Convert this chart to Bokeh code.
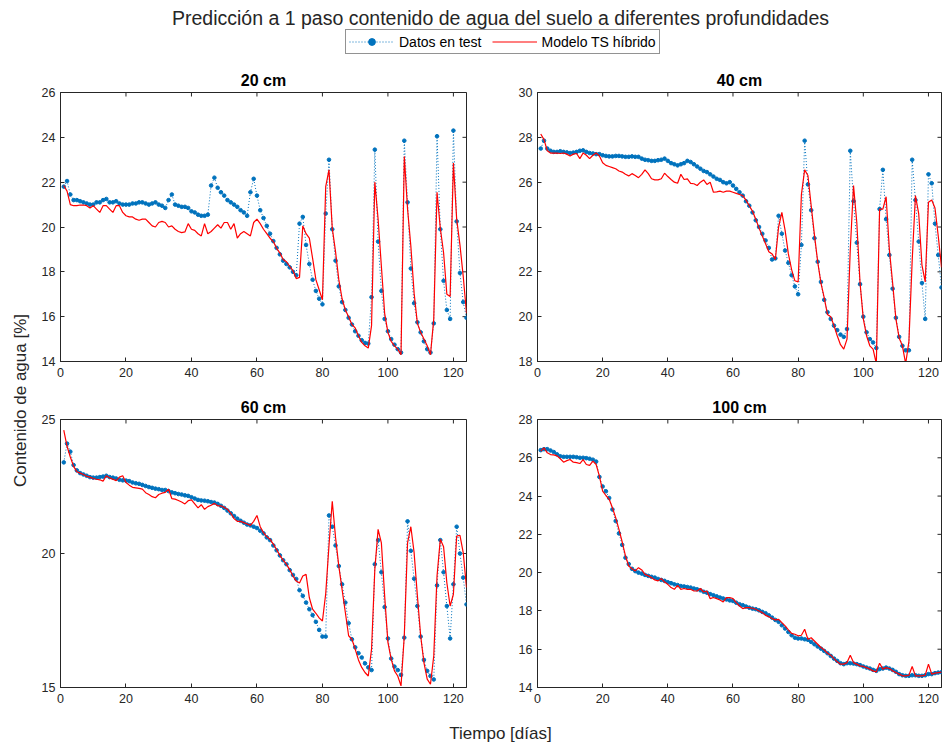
from math import pi
from bokeh.plotting import figure
from bokeh.models import (Range1d, LinearAxis, Label, Legend, LegendItem,
                          ColumnDataSource, FixedTicker)
from bokeh.layouts import column, row
from bokeh.embed import file_html
from bokeh.resources import INLINE

# ---------------- data ----------------
days = list(range(1, 125))
x_ticks = [0, 20, 40, 60, 80, 100, 120]
x_lo, x_hi = 0, 124

title_main = "Predicción a 1 paso contenido de agua del suelo a diferentes profundidades"
label_blue = "Datos en test"
label_red = "Modelo TS híbrido"
y_label = "Contenido de agua [%]"
x_label = "Tiempo [días]"
panel_titles = ["20 cm", "40 cm", "60 cm", "100 cm"]

ticks_20 = [14, 16, 18, 20, 22, 24, 26]
ticks_40 = [18, 20, 22, 24, 26, 28, 30]
ticks_60 = [15, 20, 25]
ticks_100 = [14, 16, 18, 20, 22, 24, 26, 28]

obs_20 = [21.8, 22.05, 21.45, 21.2, 21.2, 21.15, 21.1, 21.05, 21.0, 21.0,
          21.1, 21.1, 21.2, 21.25, 21.1, 21.1, 21.15, 21.05, 21.0, 21.0,
          21.0, 21.05, 21.05, 21.1, 21.1, 21.05, 21.0, 21.05, 21.1, 21.0,
          20.95, 20.85, 21.2, 21.45, 21.0, 20.95, 20.9, 20.9, 20.85, 20.7,
          20.65, 20.55, 20.5, 20.5, 20.55, 21.85, 22.2, 21.75, 21.55, 21.4,
          21.2, 21.1, 21.0, 20.9, 20.75, 20.65, 20.5, 21.55, 22.15, 21.4,
          20.75, 20.4, 20.05, 19.7, 19.37, 19.07, 18.78, 18.5, 18.35, 18.2,
          18.0, 17.85, 20.15, 20.45, 19.2, 18.35, 17.65, 17.15, 16.8, 16.55,
          20.6, 23.0, 19.9, 18.5, 17.35, 16.65, 16.3, 15.95, 15.65, 15.35,
          15.15, 14.95, 14.83, 14.8, 16.87, 23.45, 19.35, 17.15, 15.9, 15.35,
          15.0, 14.75, 14.55, 14.4, 23.85, 21.1, 18.15, 16.6, 15.75, 15.3,
          14.9, 14.55, 14.4, 15.7, 24.05, 19.9, 17.6, 16.3, 15.9, 24.3,
          20.25, 17.95, 16.65, 15.95]
mod_20 = [21.85, 21.6, 21.0, 20.95, 20.95, 20.98, 20.98, 20.95, 20.85, 20.95,
          20.8, 20.65, 20.95, 20.95, 20.8, 20.65, 20.95, 20.95, 20.65, 20.5,
          20.45, 20.45, 20.35, 20.3, 20.35, 20.35, 20.2, 20.05, 20.0, 20.2,
          20.25, 20.2, 20.0, 20.05, 19.9, 19.8, 19.75, 19.78, 20.15, 19.9,
          19.85, 19.7, 19.6, 20.15, 19.7, 19.8, 19.95, 20.1, 19.95, 20.2,
          20.2, 19.9, 20.15, 19.5, 19.7, 19.8, 19.7, 19.6, 20.2, 20.35,
          20.15, 19.9, 19.7, 19.5, 19.35, 19.05, 18.85, 18.55, 18.45, 18.25,
          18.05, 17.7, 17.75, 20.05, 19.7, 19.5, 18.6, 17.65, 17.2, 16.75,
          21.8, 22.55, 19.95, 18.9, 17.65, 16.8, 16.3, 16.0, 15.65, 15.5,
          15.15, 14.85, 14.7, 14.6, 15.6, 22.0, 20.35, 18.25, 16.15, 15.3,
          14.9, 14.7, 14.55, 14.3, 23.15, 20.8, 19.15, 17.05, 15.7, 15.3,
          15.0, 14.7, 14.3, 15.9, 21.55, 19.95, 18.85, 17.0, 16.9, 22.85,
          20.35, 19.2, 17.8, 16.15]

obs_40 = [27.5, 27.85, 27.5, 27.4, 27.35, 27.35, 27.38, 27.35, 27.33, 27.3,
          27.32, 27.35, 27.4, 27.42, 27.35, 27.3, 27.28, 27.25, 27.25, 27.2,
          27.17, 27.15, 27.15, 27.17, 27.17, 27.15, 27.13, 27.13, 27.15, 27.13,
          27.13, 27.05, 27.0, 26.98, 26.95, 26.95, 26.98, 27.0, 27.05, 26.95,
          26.85, 26.8, 26.75, 26.8, 26.85, 26.95, 26.9, 26.8, 26.7, 26.6,
          26.5, 26.45, 26.35, 26.25, 26.15, 26.1, 26.0, 25.95, 26.0, 25.85,
          25.7, 25.55, 25.4, 25.15, 24.95, 24.65, 24.3, 24.0, 23.7, 23.4,
          23.07, 22.55, 22.6, 24.5, 23.7, 22.95, 22.4, 21.85, 21.35, 21.0,
          23.2, 27.85, 25.9, 24.75, 23.5, 22.45, 21.55, 20.75, 20.2, 19.9,
          19.6, 19.4, 19.2, 19.1, 19.45, 27.4, 25.15, 23.3, 21.45, 20.0,
          19.3, 19.0, 18.85, 18.6, 24.8, 26.55, 24.35, 22.75, 21.25, 19.95,
          19.1, 18.7, 18.5, 18.5, 27.0, 25.2, 23.35, 21.5, 19.9, 26.35,
          25.95, 24.15, 22.75, 21.3]
mod_40 = [28.15, 27.9, 27.4, 27.3, 27.3, 27.3, 27.28, 27.3, 27.25, 27.17,
          27.25, 27.28, 27.05, 27.3, 27.2, 27.05, 27.2, 27.3, 27.17, 26.87,
          26.75, 26.7, 26.65, 26.6, 26.5, 26.45, 26.35, 26.28, 26.38, 26.3,
          26.2, 26.35, 26.55, 26.38, 26.15, 26.1, 26.1, 26.15, 26.4, 26.25,
          26.12, 26.0, 25.95, 26.35, 26.12, 26.15, 25.95, 25.93, 25.85, 26.0,
          26.1, 25.9, 26.0, 25.55, 25.57, 25.6, 25.55, 25.6, 25.6, 25.55,
          25.5, 25.45, 25.4, 25.2, 24.95, 24.7, 24.35, 23.95, 23.6, 23.25,
          22.9, 22.8, 22.55, 24.0, 24.65, 23.85, 22.8, 22.1, 21.6, 21.55,
          25.45, 26.55, 26.3, 24.95, 23.65, 22.45, 21.5, 20.85, 20.1, 20.0,
          19.6, 19.15, 18.75, 18.55, 19.0, 23.0, 25.85, 24.2, 21.5, 19.9,
          19.15, 18.7, 18.55, 17.9, 24.8, 24.8, 25.35, 23.0, 21.5, 19.9,
          19.05, 18.7, 17.9, 18.9, 22.5, 25.4, 24.6, 22.3, 21.55, 25.1,
          25.2, 24.85, 23.6, 22.2]

obs_60 = [23.4, 24.1, 23.8, 23.3, 23.1, 23.0, 22.95, 22.9, 22.85, 22.83,
          22.83, 22.85, 22.87, 22.9, 22.85, 22.83, 22.8, 22.75, 22.73, 22.72,
          22.7, 22.65, 22.62, 22.6, 22.56, 22.52, 22.48, 22.45, 22.42, 22.4,
          22.37, 22.37, 22.33, 22.28, 22.25, 22.22, 22.2, 22.17, 22.15, 22.1,
          22.05, 22.0, 21.98, 21.97, 21.95, 21.92, 21.9, 21.85, 21.78, 21.7,
          21.6, 21.5, 21.4, 21.3, 21.22, 21.15, 21.08, 21.05, 21.0, 20.95,
          20.85, 20.75, 20.6, 20.5, 20.3, 20.12, 19.93, 19.75, 19.6, 19.38,
          19.2, 19.05, 18.63, 18.42, 18.17, 17.92, 17.7, 17.45, 17.15, 16.9,
          16.9, 21.42, 21.0, 20.3, 19.53, 18.85, 18.17, 17.4, 16.8, 16.5,
          16.28, 16.12, 15.9, 15.75, 15.65, 19.6, 20.5, 19.3, 18.0, 16.83,
          16.08, 15.78, 15.65, 15.47, 16.86, 21.2, 20.1, 19.06, 18.04, 16.9,
          16.03, 15.62, 15.43, 15.3, 18.81, 20.5, 19.3, 18.04, 16.83, 18.85,
          21.0, 20.0, 19.1, 18.1]
mod_60 = [24.6, 24.0, 23.6, 23.25, 23.05, 23.0, 22.95, 22.88, 22.85, 22.8,
          22.77, 22.75, 22.7, 22.9, 22.82, 22.77, 22.72, 22.85, 22.9, 22.65,
          22.55, 22.47, 22.45, 22.43, 22.4, 22.27, 22.2, 22.12, 22.08, 22.2,
          22.25, 22.28, 22.4, 22.05, 22.03, 21.98, 21.92, 21.85, 21.97, 22.0,
          21.85, 21.7, 21.82, 21.65, 21.75, 21.8, 21.87, 21.78, 21.78, 21.72,
          21.65, 21.5, 21.3, 21.2, 21.2, 21.15, 21.1, 21.05, 21.2, 21.42,
          21.0, 20.78, 20.63, 20.53, 20.35, 20.15, 19.93, 19.75, 19.6, 19.4,
          19.16, 18.97, 18.9, 19.16, 19.22, 18.35, 17.92, 17.77, 17.6, 17.48,
          18.5, 20.3, 21.95, 20.6, 19.53, 18.66, 17.8, 16.93, 16.8, 16.43,
          16.03, 15.75, 15.56, 15.43, 16.43, 19.4, 20.9, 20.4, 18.42, 16.68,
          16.06, 15.62, 15.43, 15.06, 16.93, 20.4, 21.0, 20.03, 18.42, 16.93,
          15.93, 15.31, 15.12, 16.18, 19.16, 20.53, 20.25, 18.91, 18.04, 18.48,
          20.65, 20.68, 20.03, 18.73]

obs_100 = [26.4, 26.45, 26.45, 26.38, 26.3, 26.18, 26.08, 26.05, 26.05, 26.05,
           26.05, 26.03, 26.0, 26.0, 25.98, 25.95, 25.9, 25.8, 25.0, 24.5,
           24.25, 23.9, 23.3, 22.7, 22.05, 21.45, 20.78, 20.45, 20.2, 20.08,
           20.0, 19.95, 19.88, 19.83, 19.78, 19.74, 19.67, 19.62, 19.57, 19.5,
           19.45, 19.39, 19.35, 19.3, 19.28, 19.25, 19.22, 19.17, 19.13, 19.08,
           19.0, 18.95, 18.88, 18.82, 18.76, 18.7, 18.65, 18.6, 18.55, 18.52,
           18.43, 18.35, 18.3, 18.23, 18.17, 18.12, 18.09, 18.03, 17.95, 17.88,
           17.77, 17.65, 17.53, 17.43, 17.25, 17.08, 16.9, 16.73, 16.6, 16.56,
           16.56, 16.52, 16.49, 16.38, 16.26, 16.14, 16.03, 15.91, 15.79, 15.65,
           15.51, 15.39, 15.27, 15.22, 15.27, 15.27, 15.25, 15.22, 15.17, 15.1,
           15.04, 14.99, 14.92, 14.87, 14.96, 14.99, 15.04, 14.99, 14.92, 14.82,
           14.7, 14.64, 14.61, 14.61, 14.64, 14.64, 14.61, 14.61, 14.64, 14.7,
           14.7, 14.75, 14.78, 14.8]
mod_100 = [26.35, 26.52, 26.26, 26.17, 26.15, 26.1, 25.95, 25.77, 25.85, 25.91,
           25.77, 25.75, 25.7, 25.9, 25.65, 25.6, 25.83, 25.65, 25.04, 24.26,
           24.03, 23.83, 23.39, 22.87, 22.26, 21.6, 20.87, 20.35, 20.2, 20.09,
           20.26, 20.14, 19.91, 19.83, 19.74, 19.62, 19.57, 19.69, 19.51, 19.39,
           19.22, 19.13, 19.34, 19.13, 19.17, 19.13, 19.13, 19.04, 19.04, 19.17,
           18.99, 19.04, 18.64, 18.7, 18.64, 18.57, 18.47, 18.7, 18.7, 18.64,
           18.43, 18.26, 18.12, 18.17, 18.17, 18.14, 18.09, 18.0, 17.91, 17.77,
           17.7, 17.6, 17.53, 17.56, 17.39, 17.22, 17.01, 16.83, 16.78, 16.7,
           16.73, 17.04, 16.52, 16.6, 16.43, 16.26, 16.09, 15.97, 15.79, 15.69,
           15.51, 15.34, 15.22, 15.22, 15.3, 15.69, 15.3, 15.22, 15.13, 15.1,
           15.04, 14.96, 14.87, 14.82, 15.27, 14.96, 15.04, 14.99, 14.87, 14.78,
           14.7, 14.61, 14.61, 14.64, 15.1, 14.61, 14.61, 14.61, 14.64, 15.22,
           14.7, 14.75, 14.78, 14.8]

# ---------------- style ----------------
FONT = "Liberation Sans"
AX = "#262626"
BLUE = "#0072BD"
RED = "#FF0000"
TICK_FS = "12.5px"
NAN = float("nan")


def style_axis(ax, ticks):
    ax.ticker = FixedTicker(ticks=ticks)
    ax.minor_tick_line_color = None
    ax.major_tick_in = 4
    ax.major_tick_out = 0
    ax.major_tick_line_color = AX
    ax.axis_line_color = AX
    ax.major_label_text_font = FONT
    ax.major_label_text_font_size = TICK_FS
    ax.major_label_text_color = AX


def make_panel(title, obs, mod, ylo, yhi, yticks, fw, fh, bl, br, bt, bb):
    p = figure(frame_width=fw, frame_height=fh,
               x_range=Range1d(x_lo, x_hi), y_range=Range1d(ylo, yhi),
               min_border_left=bl, min_border_right=br,
               min_border_top=bt, min_border_bottom=bb,
               output_backend="svg", toolbar_location=None)
    p.grid.visible = False
    p.outline_line_color = AX
    p.background_fill_color = "white"
    p.border_fill_color = "white"
    style_axis(p.xaxis[0], x_ticks)
    style_axis(p.yaxis[0], yticks)
    p.xaxis[0].major_label_standoff = 6
    p.yaxis[0].major_label_standoff = 5
    # top axis only carries the panel title (no ticks, no tick labels)
    ax_t = LinearAxis(ticker=FixedTicker(ticks=[]))
    ax_t.axis_line_color = None
    ax_t.axis_label = title
    ax_t.axis_label_text_font = FONT
    ax_t.axis_label_text_font_size = "16px"
    ax_t.axis_label_text_font_style = "bold"
    ax_t.axis_label_text_color = "black"
    ax_t.axis_label_standoff = 4
    p.add_layout(ax_t, "above")
    # mirrored inward ticks on the right and top edges of the box
    p.scatter(x=[x_hi] * len(yticks), y=yticks, marker="dash", size=8,
              line_color=AX, line_width=1)
    p.scatter(x=x_ticks, y=[yhi] * len(x_ticks), marker="dash", angle=pi / 2,
              size=8, line_color=AX, line_width=1)

    src = ColumnDataSource(dict(x=days, obs=obs, mod=mod))
    p.line("x", "obs", source=src, line_color=BLUE, line_dash="1 2", line_width=1)
    p.scatter("x", "obs", source=src, size=3.6, color=BLUE)
    p.line("x", "mod", source=src, line_color=RED, line_width=1.2)
    return p


W = 942
HDR = 68
# header with title and legend
header = figure(width=W, height=HDR, x_range=Range1d(0, W), y_range=Range1d(0, HDR),
                x_axis_location=None, y_axis_location=None, min_border=0,
                output_backend="svg", toolbar_location=None)
header.grid.visible = False
header.outline_line_color = None
header.add_layout(Label(x=500, y=HDR - 17, text=title_main, text_align="center",
                        text_baseline="middle", text_font=FONT,
                        text_font_size="19.5px", text_color=AX))
leg_src = ColumnDataSource(dict(x=[NAN], y=[NAN]))
lb = header.line("x", "y", source=leg_src, line_color=BLUE, line_dash="1 2", line_width=1)
sb = header.scatter("x", "y", source=leg_src, size=3.6, color=BLUE)
lr = header.line("x", "y", source=leg_src, line_color=RED, line_width=1.2)
leg = Legend(items=[LegendItem(label=label_blue, renderers=[lb, sb]),
                    LegendItem(label=label_red, renderers=[lr])],
             orientation="horizontal", location=(345, HDR - 54),
             label_text_font=FONT, label_text_font_size="14px", label_text_color="black",
             glyph_width=45, glyph_height=17, label_height=17, label_standoff=5,
             spacing=10, padding=3, margin=0,
             border_line_color=AX, border_line_width=1, background_fill_color="white")
header.add_layout(leg)

p20 = make_panel(panel_titles[0], obs_20, mod_20, 14, 26, ticks_20, 406, 269, 27, 44, 23, 28)
p40 = make_panel(panel_titles[1], obs_40, mod_40, 18, 30, ticks_40, 404, 269, 27, 1, 23, 28)
p60 = make_panel(panel_titles[2], obs_60, mod_60, 15, 25, ticks_60, 406, 268, 27, 44, 30, 24)
p100 = make_panel(panel_titles[3], obs_100, mod_100, 14, 28, ticks_100, 404, 268, 27, 1, 30, 24)

H_PANELS = 322 + 322
YW = 33
ylab = figure(width=YW, height=H_PANELS, x_range=Range1d(0, YW), y_range=Range1d(0, H_PANELS),
              x_axis_location=None, y_axis_location=None, min_border=0,
              output_backend="svg", toolbar_location=None)
ylab.grid.visible = False
ylab.outline_line_color = None
ylab.add_layout(Label(x=20, y=H_PANELS - (400 - HDR), text=y_label, angle=pi / 2,
                      text_align="center", text_baseline="middle", text_font=FONT,
                      text_font_size="17px", text_color=AX))

XH = 34
xlab = figure(width=W, height=XH, x_range=Range1d(0, W), y_range=Range1d(0, XH),
              x_axis_location=None, y_axis_location=None, min_border=0,
              output_backend="svg", toolbar_location=None)
xlab.grid.visible = False
xlab.outline_line_color = None
xlab.add_layout(Label(x=500, y=13, text=x_label, text_align="center",
                      text_baseline="middle", text_font=FONT, text_font_size="17px",
                      text_color=AX))

layout = column(header,
                row(ylab, column(row(p20, p40), row(p60, p100))),
                xlab)

open("out.html", "w").write(file_html(layout, INLINE))
